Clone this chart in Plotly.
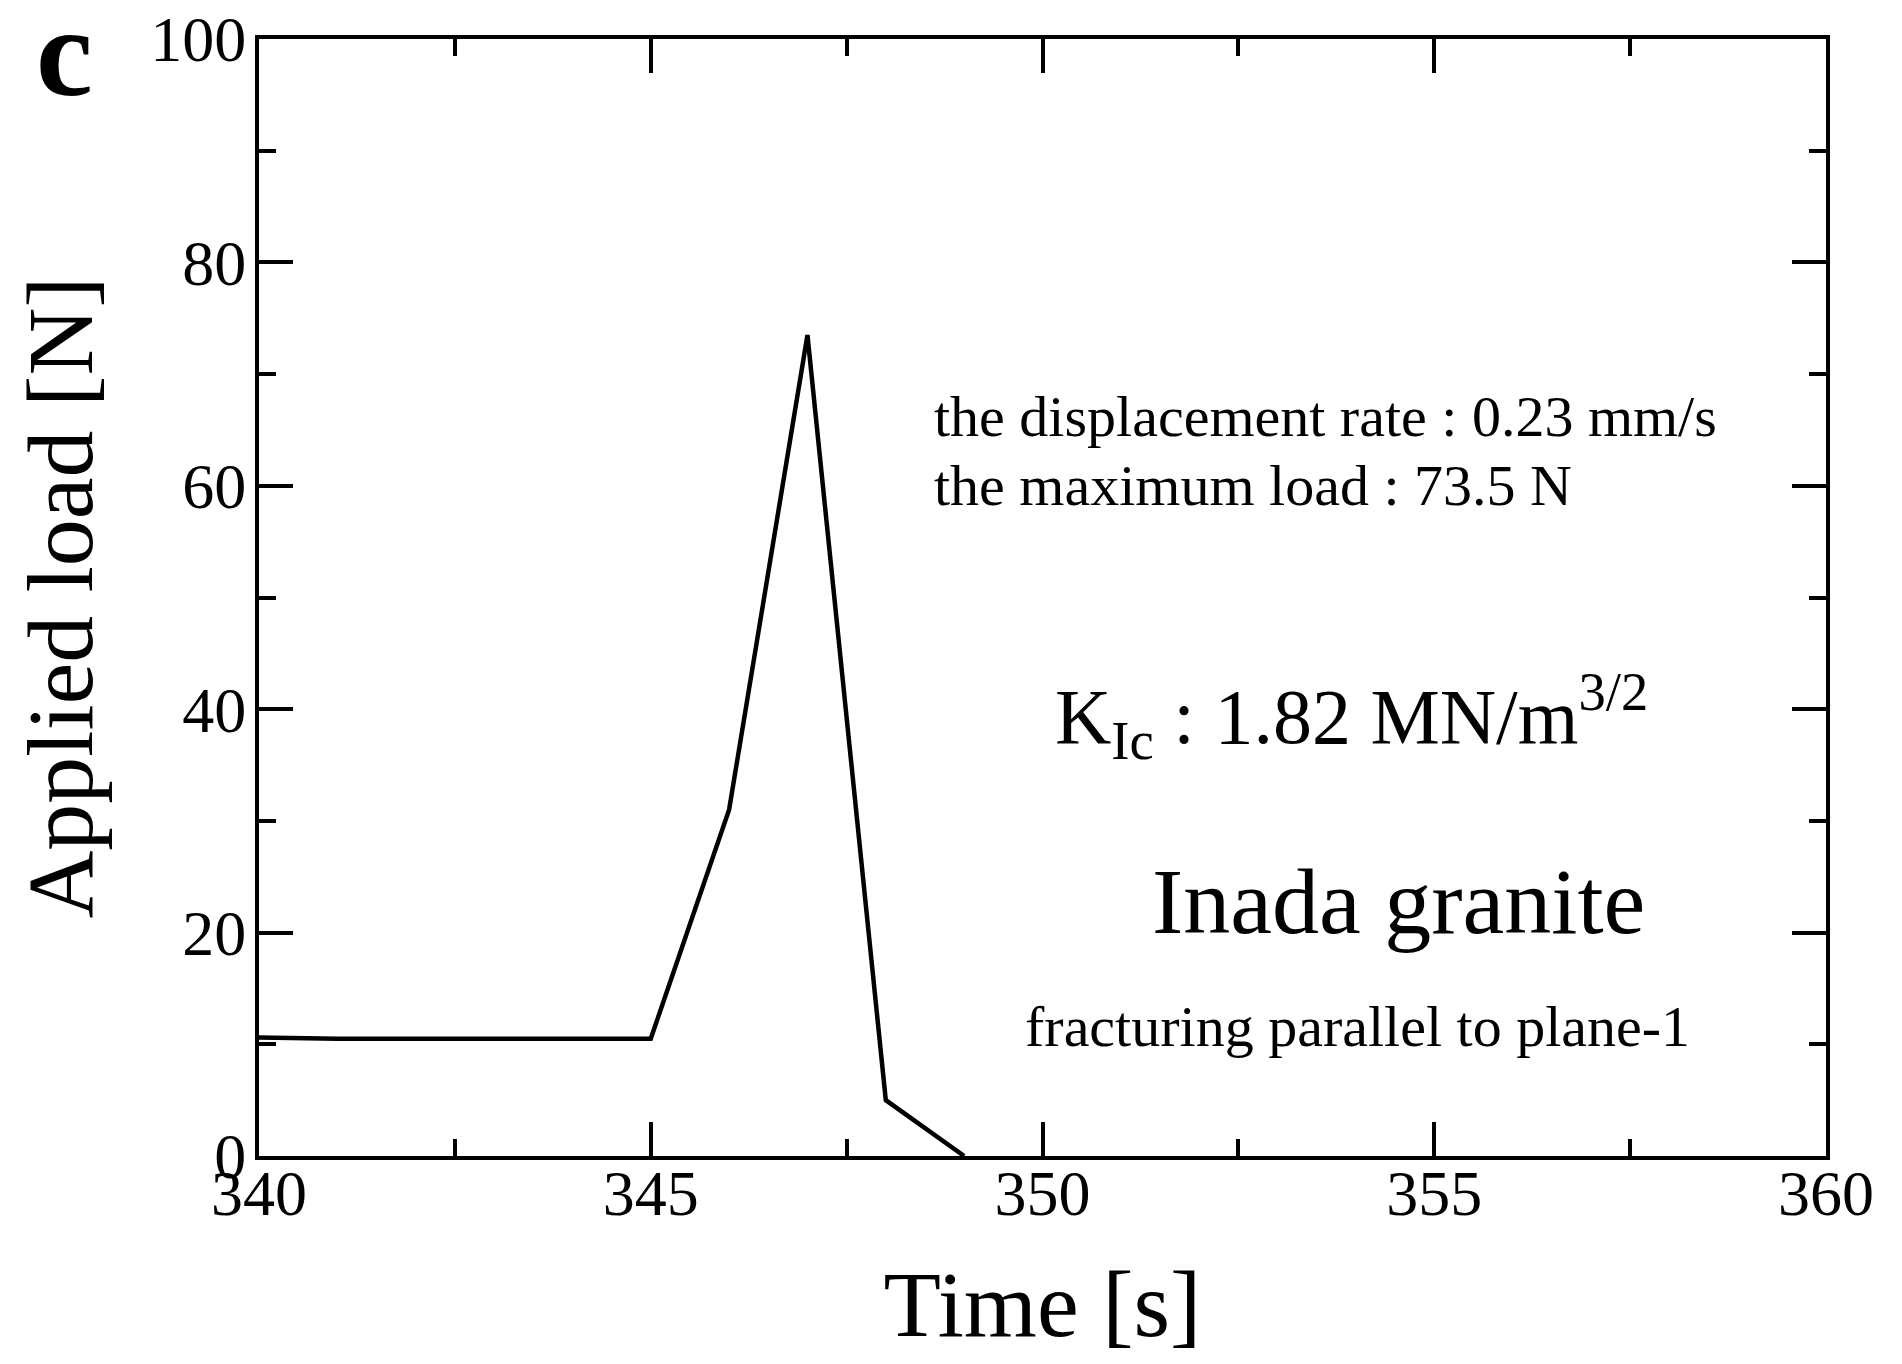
import plotly.graph_objects as go

# Data
time_s = [340, 341, 345, 346, 347, 348, 349]
load_n = [10.6, 10.5, 10.5, 31.0, 73.5, 5.0, 0.0]

x_ticks = [340, 345, 350, 355, 360]
y_ticks = [0, 20, 40, 60, 80, 100]

FONT = "Liberation Serif, Times New Roman, serif"

fig = go.Figure()
fig.add_trace(go.Scatter(
    x=time_s, y=load_n, mode="lines",
    line=dict(color="black", width=4.5),
    showlegend=False, hoverinfo="skip",
))

axis_common = dict(
    showgrid=False, zeroline=False,
    showline=True, linecolor="black", linewidth=4,
    mirror="ticks", ticks="inside", ticklen=34, tickwidth=3.5, tickcolor="black",
    tickfont=dict(family=FONT, size=64, color="black"),
    ticklabeloverflow="allow",
)

fig.update_xaxes(
    range=[340, 360], tickvals=x_ticks, ticktext=[str(v) for v in x_ticks],
    minor=dict(dtick=2.5, tick0=340, ticks="inside", ticklen=17, tickwidth=3.5, tickcolor="black", showgrid=False),
    title=dict(text="Time [s]", font=dict(family=FONT, size=94, color="black"), standoff=55),
    ticklabelstandoff=-22,
    **axis_common,
)
fig.update_yaxes(
    range=[0, 100], tickvals=y_ticks, ticktext=[str(v) for v in y_ticks],
    minor=dict(dtick=10, tick0=0, ticks="inside", ticklen=17, tickwidth=3.5, tickcolor="black", showgrid=False),
    title=dict(text="Applied load [N]", font=dict(family=FONT, size=94, color="black"), standoff=31),
    ticklabelstandoff=-4,
    **axis_common,
)

annotations = [
    dict(text="the displacement rate : 0.23 mm/s", x=0.4295, y=0.6616, xanchor="left", yanchor="middle", size=58),
    dict(text="the maximum load : 73.5 N", x=0.4295, y=0.6007, xanchor="left", yanchor="middle", size=58),
    dict(text="K<sub>Ic</sub> : 1.82 MN/m<sup>3/2</sup>", x=0.5067, y=0.394, xanchor="left", yanchor="middle", size=78),
    dict(text="Inada granite", x=0.7269, y=0.228, xanchor="center", yanchor="middle", size=94),
    dict(text="fracturing parallel to plane-1", x=0.7013, y=0.1155, xanchor="center", yanchor="middle", size=58),
    dict(text="<b>c</b>", x=-0.1244, y=0.988, xanchor="center", yanchor="middle", size=128),
]
for a in annotations:
    fig.add_annotation(
        text=a["text"], x=a["x"], y=a["y"], xref="paper", yref="paper",
        xanchor=a["xanchor"], yanchor=a["yanchor"], showarrow=False,
        font=dict(family=FONT, size=a["size"], color="black"),
    )

# The page body adds an 8 px offset; the figure is sized so that it fits the window.
fig.update_layout(
    width=1886, height=1348,
    margin=dict(l=251, r=68, t=31, b=200, autoexpand=False),
    paper_bgcolor="white", plot_bgcolor="white",
    font=dict(family=FONT, color="black"),
)

fig.write_html("out.html")
